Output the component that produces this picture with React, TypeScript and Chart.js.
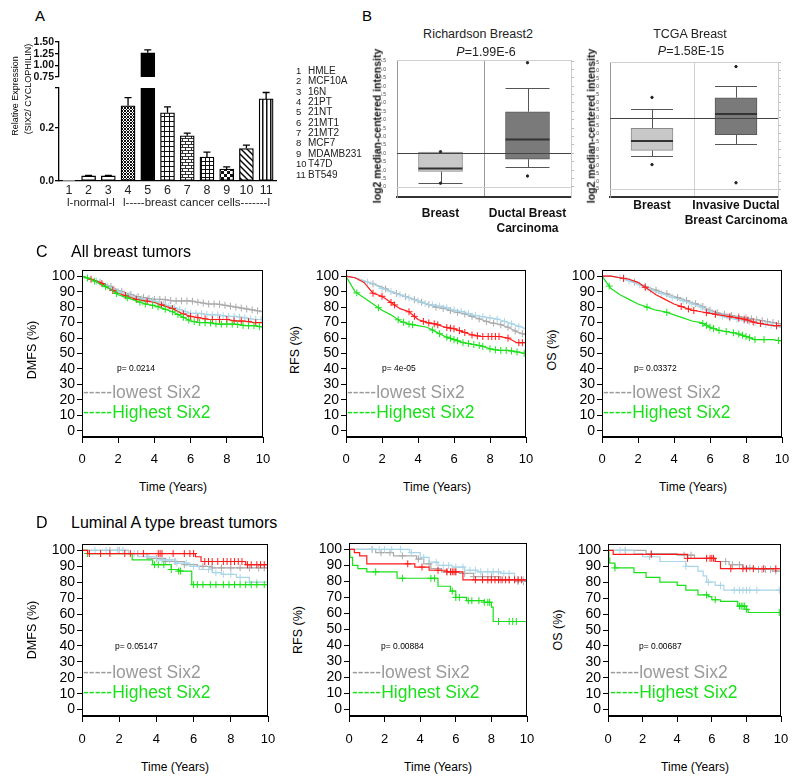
import React, { useEffect, useRef } from "react";
import { Chart, registerables } from "chart.js";
Chart.register(...registerables);

const FONT = "'Liberation Sans', Arial, Helvetica, sans-serif";
Chart.defaults.font.family = FONT;
Chart.defaults.color = "#000";

// ---------------- Panel A data ----------------
const cellNums = ["1", "2", "3", "4", "5", "6", "7", "8", "9", "10", "11"];
const cellNames = ["HMLE", "MCF10A", "16N", "21PT", "21NT", "21MT1", "21MT2", "MCF7", "MDAMB231", "T47D", "BT549"];
const relExpr = [0.002, 0.019, 0.019, 0.283, 1.27, 0.257, 0.17, 0.09, 0.045, 0.122, 0.309];
const relErr = [0, 0.002, 0.002, 0.031, 0.06, 0.022, 0.01, 0.019, 0.008, 0.013, 0.024];
const aLowTicks = [0, 0.2, 0.35];
const aLowLabels = ["0.0", "0.2", ""];
const aHighTicks = [0.75, 1.0, 1.25, 1.5];
const aHighLabels = ["0.75", "1.00", "1.25", "1.50"];
const barFills = ["white", "white", "white", "xhatch", "black", "grid5", "brick", "grid4", "checker", "diag", "vstripe"];

// ---------------- Panel B data ----------------
const bLeftGroups = [["Breast"], ["Ductal Breast", "Carcinoma"]];
const bLeftQ1 = [-1.08, -0.35];
const bLeftQ3 = [0.07, 2.48];
const bLeftMed = [-0.9, 0.83];
const bLeftWhLo = [-1.75, -0.8];
const bLeftWhHi = [0.07, 3.9];
const bLeftOutHi = [0.1, 5.4];
const bLeftOutLo = [-1.78, -1.35];
const bLeftTicks = [-2.0, -1.5, -1.0, -0.5, 0.0, 0.5, 1.0, 1.5, 2.0, 2.5, 3.0, 3.5, 4.0, 4.5, 5.0, 5.5];

const bRightGroups = [["Breast"], ["Invasive Ductal", "Breast Carcinoma"]];
const bRightQ1 = [-2.05, -1.05];
const bRightQ3 = [-0.65, 1.28];
const bRightMed = [-1.45, 0.25];
const bRightWhLo = [-2.42, -1.65];
const bRightWhHi = [0.55, 2.05];
const bRightOutHi = [1.3, 3.25];
const bRightOutLo = [-2.95, -4.1];
const bRightTicks = [-4.5, -4.0, -3.5, -3.0, -2.5, -2.0, -1.5, -1.0, -0.5, 0.0, 0.5, 1.0, 1.5, 2.0, 2.5, 3.0, 3.5];

// ---------------- KM data ----------------
const kmXTicks = [0, 2, 4, 6, 8, 10];
const kmYTicks = [0, 10, 20, 30, 40, 50, 60, 70, 80, 90, 100];
const cKnots = [0, 0.5, 1, 1.5, 2, 2.5, 3, 3.5, 4, 4.5, 5, 5.5, 6, 6.5, 7, 7.5, 8, 8.5, 9, 9.5, 10];

// C1 DMFS (all tumours)
const c1Gray = [100, 98, 96, 94, 91, 89, 87, 86, 85, 85, 84, 84, 84, 83, 82, 82, 81, 80, 79, 78, 77];
const c1Blue = [100, 98, 96, 93, 90, 88, 86, 85, 84, 82, 80, 78, 76, 76, 75, 75, 74, 74, 73, 72, 72];
const c1Red = [100, 98, 96, 92, 89, 87, 85, 84, 83, 81, 79, 76, 74, 73, 72, 72, 72, 71, 71, 70, 70];
const c1Green = [100, 98, 95, 92, 88, 86, 84, 82, 81, 79, 77, 74, 71, 70, 70, 69, 69, 69, 68, 68, 67];
const c1GrayCens = [1.0, 1.6, 2.2, 2.7, 3.1, 3.4, 3.7, 4.0, 4.3, 4.6, 4.9, 5.2, 5.5, 5.8, 6.1, 6.4, 6.7, 7.0, 7.3, 7.6, 7.9, 8.2, 8.5, 8.8, 9.1, 9.4, 9.7, 10.0];
const c1BlueCens = [0.8, 1.4, 2.0, 2.6, 3.0, 3.3, 3.6, 3.9, 4.2, 4.5, 4.8, 5.1, 5.4, 5.7, 6.0, 6.3, 6.6, 6.9, 7.2, 7.5, 7.8, 8.1, 8.4, 8.7, 9.0, 9.3, 9.6, 9.9];
const c1RedCens = [0.5, 1.1, 1.7, 2.4, 3.0, 3.6, 4.4, 5.0, 5.6, 6.0, 6.4, 6.8, 7.2, 7.6, 8.0, 8.4, 8.8, 9.2, 9.6, 10.0];
const c1GreenCens = [0.3, 0.7, 1.3, 1.9, 2.5, 3.2, 3.5, 3.9, 4.2, 4.6, 5.0, 5.3, 5.6, 5.9, 6.2, 6.5, 6.8, 7.1, 7.4, 7.7, 8.0, 8.3, 8.6, 8.9, 9.2, 9.5, 9.8];

// C2 RFS (all tumours)
const c2Gray = [100, 99, 97, 95, 93, 90, 88, 86, 84, 82, 80, 79, 77, 76, 74, 72, 70, 69, 67, 64, 62];
const c2Blue = [100, 99, 97, 95, 92, 90, 88, 86, 84, 82, 81, 80, 78, 77, 75, 74, 73, 72, 70, 68, 66];
const c2Red = [100, 99, 96, 89, 87, 83, 79, 77, 72, 70, 69, 67, 66, 64, 62, 61, 61, 61, 60, 57, 57];
const c2Green = [100, 90, 86, 82, 78, 75, 71, 69, 68, 67, 64, 61, 59, 57, 56, 55, 53, 52, 52, 51, 50];
const c2GrayCens = [1.5, 2.2, 2.8, 3.3, 3.8, 4.2, 4.6, 5.0, 5.4, 5.8, 6.2, 6.6, 7.0, 7.4, 7.8, 8.2, 8.6, 9.0, 9.4, 9.8];
const c2BlueCens = [1.2, 2.0, 2.5, 3.0, 3.5, 4.0, 4.4, 4.8, 5.2, 5.6, 6.0, 6.4, 6.8, 7.2, 7.6, 8.0, 8.4, 8.8, 9.2, 9.6, 10.0];
const c2RedCens = [1.5, 2.0, 2.5, 2.7, 3.5, 3.8, 4.3, 4.6, 4.9, 5.1, 5.6, 5.8, 6.0, 6.3, 6.6, 7.0, 7.3, 7.6, 7.9, 8.1, 8.3, 8.5, 9.0, 9.6, 9.8];
const c2GreenCens = [0.6, 1.8, 2.9, 3.2, 3.5, 3.7, 4.8, 5.2, 5.6, 5.8, 6.0, 6.2, 6.5, 6.8, 7.1, 7.4, 7.6, 8.0, 8.3, 8.6, 8.9, 9.2, 9.5, 9.9];

// C3 OS (all tumours)
const c3Gray = [100, 100, 99, 98, 95, 93, 91, 89, 87, 85, 83, 81, 78, 76, 75, 74, 73, 72, 71, 70, 69];
const c3Blue = [100, 100, 99, 97, 95, 92, 90, 88, 86, 84, 82, 80, 77, 75, 73, 72, 71, 70, 69, 68, 67];
const c3Red = [100, 100, 99, 98, 96, 92, 88, 85, 82, 80, 78, 77, 76, 75, 74, 73, 72, 70, 69, 68, 68];
const c3Green = [100, 92, 88, 85, 82, 80, 78, 77, 75, 73, 71, 70, 67, 65, 64, 63, 61, 59, 59, 59, 58];
const c3GrayCens = [1.2, 1.8, 2.4, 3.0, 3.6, 4.2, 4.7, 5.2, 5.6, 6.0, 6.4, 6.8, 7.2, 7.6, 8.0, 8.3, 8.6, 8.9, 9.2, 9.5, 9.8];
const c3BlueCens = [1.0, 1.5, 2.1, 2.7, 3.3, 3.9, 4.5, 5.0, 5.5, 5.9, 6.3, 6.7, 7.1, 7.5, 7.9, 8.2, 8.5, 8.8, 9.1, 9.4, 9.7, 10.0];
const c3RedCens = [1.2, 2.4, 4.4, 4.8, 5.1, 5.8, 6.3, 7.1, 7.6, 7.9, 8.1, 8.4, 8.8, 9.7];
const c3GreenCens = [0.4, 2.5, 3.6, 5.6, 5.8, 6.0, 6.2, 6.5, 6.9, 7.3, 7.6, 7.8, 8.0, 8.2, 8.5, 9.0, 9.8];

// D1 DMFS (luminal A)
const d1GrayT = [0, 2.5, 3.5, 4.5, 5.5, 6.2, 7.0, 10];
const d1GrayS = [100, 98, 95, 93, 91, 90, 89, 89];
const d1GrayCens = [1.5, 2.0, 3.0, 4.0, 4.5, 5.0, 5.5, 6.5, 7.0, 7.5, 8.0, 8.5, 9.0, 9.5, 9.8];
const d1BlueT = [0, 2.5, 3.0, 4.0, 5.0, 5.8, 6.3, 7.0, 7.5, 8.3, 9.0, 10];
const d1BlueS = [100, 98, 96, 94, 92, 90, 88, 86, 85, 83, 80, 79];
const d1BlueCens = [0.7, 1.3, 1.9, 2.2, 2.8, 3.6, 4.3, 4.7, 5.1, 5.6, 6.0, 6.8, 7.2, 7.6, 8.0, 8.5, 9.0, 9.4];
const d1RedT = [0, 0.3, 5.8, 6.1, 6.4, 8.8, 10];
const d1RedS = [100, 98, 98, 96, 93, 91, 91];
const d1RedCens = [0.4, 1.0, 1.5, 2.3, 2.6, 3.3, 4.1, 4.2, 4.3, 4.9, 5.5, 5.8, 6.0, 6.6, 6.8, 7.0, 7.3, 7.6, 7.8, 8.0, 8.2, 8.4, 8.6, 8.9, 9.1, 9.4, 9.6, 9.8, 10.0];
const d1GreenT = [0, 0.3, 2.7, 3.8, 4.8, 5.2, 5.9, 10];
const d1GreenS = [100, 98, 94, 91, 88, 87, 78.5, 78.5];
const d1GreenCens = [0.3, 3.9, 4.1, 4.4, 4.8, 5.2, 5.3, 6.0, 6.2, 6.5, 6.9, 7.2, 7.6, 7.9, 8.2, 8.5, 8.8, 9.1, 9.4, 9.8, 10.0];

// D2 RFS (luminal A)
const d2GrayT = [0, 1.5, 2.5, 3.8, 4.2, 4.6, 5.2, 6.2, 7.0, 8.5, 9.5, 10];
const d2GrayS = [100, 98, 96, 94, 91, 88, 86, 85, 83, 81, 80, 79];
const d2GrayCens = [1.3, 1.8, 2.3, 3.0, 3.9, 4.5, 5.5, 6.0, 6.5, 7.0, 7.5, 8.0, 8.5, 9.0, 9.5, 9.8];
const d2BlueT = [0, 3.4, 4.0, 4.5, 5.0, 5.8, 6.5, 7.2, 8.5, 9.3, 10];
const d2BlueS = [100, 98, 95, 92, 90, 89, 87, 86, 85, 81, 78];
const d2BlueCens = [1.3, 1.7, 2.0, 2.4, 2.9, 3.5, 4.2, 4.9, 5.3, 5.6, 6.0, 6.4, 6.8, 7.1, 7.4, 7.8, 8.1, 8.4, 8.7, 9.0, 9.5, 9.8];
const d2RedT = [0, 0.3, 0.6, 1.0, 3.7, 4.5, 5.5, 6.4, 10];
const d2RedS = [100, 98, 96, 91, 89, 87, 86, 81, 81];
const d2RedCens = [3.3, 4.1, 5.0, 5.5, 5.7, 5.8, 5.9, 6.0, 7.1, 7.5, 7.8, 8.0, 8.2, 8.4, 8.6, 8.8, 9.0, 9.3, 9.5, 9.7, 10.0];
const d2GreenT = [0, 0.05, 0.2, 0.5, 1.0, 2.7, 5.0, 5.7, 6.0, 6.6, 7.6, 8.0, 8.1, 10];
const d2GreenS = [100, 95, 90, 88, 86, 82, 77, 74, 70, 68, 67, 64, 55, 55];
const d2GreenCens = [1.5, 3.0, 4.6, 4.8, 5.8, 6.0, 6.2, 6.7, 6.9, 7.3, 7.6, 7.8, 7.9, 8.4, 9.0, 9.2, 9.4];

// D3 OS (luminal A)
const d3GrayT = [0, 2.2, 4.0, 5.0, 6.2, 7.0, 7.8, 8.5, 9.5, 10];
const d3GrayS = [100, 98, 97, 95, 93, 91, 89, 88, 87, 87];
const d3GrayCens = [1.0, 2.5, 4.4, 4.8, 6.8, 7.2, 7.6, 8.2, 8.7, 8.9, 9.1, 9.4, 9.7];
const d3BlueT = [0, 1.5, 2.0, 3.0, 4.5, 5.2, 5.5, 5.7, 6.2, 6.7, 10];
const d3BlueS = [100, 98, 96, 93, 90, 87, 84, 80, 78, 75, 75];
const d3BlueCens = [0.7, 1.0, 2.4, 4.5, 5.8, 6.5, 7.3, 7.6, 7.8, 8.0, 8.2, 8.6, 9.9];
const d3RedT = [0, 0.3, 4.6, 6.2, 6.5, 10];
const d3RedS = [100, 97.5, 95, 93, 88.5, 88.5];
const d3RedCens = [2.5, 4.6, 5.7, 5.9, 6.0, 6.1, 7.1, 7.8, 8.0, 8.4, 9.0, 9.7];
const d3GreenT = [0, 0.05, 0.1, 0.4, 1.5, 2.2, 3.0, 4.0, 4.5, 5.2, 5.8, 6.0, 6.5, 7.5, 8.0, 8.1, 10];
const d3GreenS = [100, 95, 92, 89, 86, 83, 80, 78, 75, 72, 71, 69, 68, 65, 63, 61, 61];
const d3GreenCens = [0.4, 5.7, 6.2, 7.6, 7.7, 7.8, 7.9, 8.0, 9.9, 10.0];

const kmYTitles = ["DMFS (%)", "RFS (%)", "OS (%)", "DMFS (%)", "RFS (%)", "OS (%)"];
const kmPvals = ["p= 0.0214", "p= 4e-05", "p= 0.03372", "p= 0.05147", "p= 0.00884", "p= 0.00687"];
const legendLow = "-----lowest Six2";
const legendHigh = "-----Highest Six2";

// ---------------- styles ----------------
const GRAY = "#aaaaaa";
const BLUE = "#a9d5e8";
const RED = "#ff1a1a";
const GREEN = "#19e019";

type Lay = { x0: number; y0: number; x1: number; y1: number; ml: number; mr: number; mt: number; mb: number; pb?: number; pr?: number };

const fitW = (w: number) => (s: any) => { s.width = w; s.paddingLeft = 0; s.paddingRight = 0; s.paddingTop = 0; s.paddingBottom = 0; };
const fitH = (h: number) => (s: any) => { s.height = h; s.paddingLeft = 0; s.paddingRight = 0; s.paddingTop = 0; s.paddingBottom = 0; };
const setTicks = (vals: number[]) => (s: any) => { s.ticks = vals.map((v) => ({ value: v })); };

function valueAt(t: number[], s: number[], x: number, stepped: boolean) {
  if (stepped) {
    let v = s[0];
    for (let i = 0; i < t.length; i++) if (t[i] <= x) v = s[i];
    return v;
  }
  for (let i = 1; i < t.length; i++) {
    if (x <= t[i]) {
      const f = (x - t[i - 1]) / (t[i] - t[i - 1]);
      return s[i - 1] + f * (s[i] - s[i - 1]);
    }
  }
  return s[s.length - 1];
}

function ChartBox({ lay, build }: { lay: Lay; build: (lay: Lay) => any }) {
  const ref = useRef<HTMLCanvasElement>(null);
  const w = lay.x1 - lay.x0 + lay.ml + lay.mr;
  const h = lay.y1 - lay.y0 + lay.mt + lay.mb;
  useEffect(() => {
    const cfg = build(lay);
    cfg.options = {
      ...(cfg.options || {}),
      responsive: false,
      maintainAspectRatio: false,
      animation: false,
      devicePixelRatio: 1,
      events: [],
      layout: { padding: { left: 0, top: lay.mt, right: lay.mr - (lay.pr || 0), bottom: lay.pb || 0 } },
      plugins: { legend: { display: false }, tooltip: { enabled: false }, title: { display: false } },
    };
    const chart = new Chart(ref.current as HTMLCanvasElement, cfg);
    return () => chart.destroy();
  }, []);
  return (
    <canvas
      ref={ref}
      width={w}
      height={h}
      style={{ position: "absolute", left: lay.x0 - lay.ml, top: lay.y0 - lay.mt, width: w, height: h }}
    />
  );
}

// ---------------- patterns for panel A ----------------
function makeFill(kind: string): any {
  if (kind === "white") return "#ffffff";
  if (kind === "black") return "#000000";
  const c = document.createElement("canvas");
  const size = kind === "xhatch" ? 3 : kind === "grid5" ? 5 : kind === "grid4" ? 4 : kind === "vstripe" ? 4 : 6;
  c.width = size;
  c.height = size;
  const g = c.getContext("2d") as CanvasRenderingContext2D;
  g.fillStyle = "#fff";
  g.fillRect(0, 0, size, size);
  g.fillStyle = "#111";
  if (kind === "xhatch") {
    [[0, 0], [1, 1], [2, 2], [2, 0], [0, 2]].forEach(([x, y]) => g.fillRect(x, y, 1, 1));
  } else if (kind === "grid5" || kind === "grid4") {
    g.fillRect(0, 0, size, 1);
    g.fillRect(0, 0, 1, size);
  } else if (kind === "brick") {
    g.fillStyle = "#333";
    g.fillRect(0, 0, 6, 1);
    g.fillRect(0, 3, 6, 1);
    g.fillRect(0, 1, 1, 2);
    g.fillRect(3, 4, 1, 2);
  } else if (kind === "checker") {
    g.fillRect(0, 0, 3, 3);
    g.fillRect(3, 3, 3, 3);
  } else if (kind === "diag") {
    g.strokeStyle = "#000";
    g.lineWidth = 1.4;
    g.beginPath();
    g.moveTo(-1, -1); g.lineTo(7, 7);
    g.moveTo(-1, 5); g.lineTo(1, 7);
    g.moveTo(5, -1); g.lineTo(7, 1);
    g.stroke();
  } else if (kind === "vstripe") {
    g.fillRect(1, 0, 1.5, size);
  }
  const ctx = document.createElement("canvas").getContext("2d") as CanvasRenderingContext2D;
  return ctx.createPattern(c, "repeat");
}

const errPlugin = (vals: (number | null)[], errs: number[]) => ({
  id: "errbars",
  afterDatasetsDraw(chart: any) {
    const meta = chart.getDatasetMeta(0);
    const y = chart.scales.y;
    const ctx = chart.ctx;
    ctx.save();
    ctx.strokeStyle = "#000";
    ctx.lineWidth = 1.3;
    meta.data.forEach((bar: any, i: number) => {
      const v = vals[i];
      if (v == null || !errs[i]) return;
      const top = v + errs[i];
      if (top > y.max) return;
      const y0 = y.getPixelForValue(v);
      const y1 = y.getPixelForValue(top);
      ctx.beginPath();
      ctx.moveTo(bar.x, y0);
      ctx.lineTo(bar.x, y1);
      ctx.moveTo(bar.x - 3.5, y1);
      ctx.lineTo(bar.x + 3.5, y1);
      ctx.stroke();
    });
    ctx.restore();
  },
});

function aBuild(high: boolean) {
  return (lay: Lay) => {
    const vals = high ? relExpr.map((v) => (v > 0.75 ? v : null)) : relExpr;
    const labels = high ? aHighLabels : aLowLabels;
    return {
      type: "bar",
      data: {
        labels: cellNums,
        datasets: [
          {
            data: vals,
            backgroundColor: barFills.map(makeFill),
            borderColor: "#000",
            borderWidth: 1.3,
            borderSkipped: false,
            barThickness: 14,
          },
        ],
      },
      options: {
        scales: {
          x: high
            ? { display: false }
            : {
                type: "category",
                afterFit: fitH(lay.mb - (lay.pb || 0)),
                grid: { display: false, drawTicks: false, tickLength: 0 },
                border: { display: true, color: "#000", width: 1.3 },
                ticks: { font: { size: 12.5 }, color: "#222", padding: 2, maxRotation: 0, autoSkip: false },
              },
          y: {
            type: "linear",
            min: high ? 0.75 : 0,
            max: high ? 1.5 : 0.35,
            afterBuildTicks: setTicks(high ? aHighTicks : aLowTicks),
            afterFit: fitW(lay.ml),
            grid: { drawOnChartArea: false, tickLength: 4, color: "#000", lineWidth: 1.3 },
            border: { color: "#000", width: 1.3 },
            ticks: {
              font: { size: 10.5, weight: "bold" },
              color: "#111",
              padding: 1,
              autoSkip: false,
              callback: (_v: any, i: number) => labels[i],
            },
          },
        },
      },
      plugins: [errPlugin(vals, relErr)],
    };
  };
}

// ---------------- box plots ----------------
type BoxSet = {
  groups: string[][]; q1: number[]; q3: number[]; med: number[]; wlo: number[]; whi: number[];
  outHi: number[]; outLo: number[]; ticks: number[]; min: number; max: number; light: number;
  divider: string; labelPad: number; thick: number;
};

function boxBuild(d: BoxSet) {
  return (lay: Lay) => ({
    type: "bar",
    data: {
      labels: d.groups,
      datasets: [
        {
          data: d.q1.map((q, i) => [q, d.q3[i]]),
          backgroundColor: ["#c8c8c8", "#7a7a7a"],
          borderColor: ["#8a8a8a", "#5a5a5a"],
          borderWidth: 1,
          borderSkipped: false,
          barThickness: d.thick,
          order: 2,
        },
        { type: "line", data: d.outHi, showLine: false, pointRadius: 1.2, pointBackgroundColor: "#222", pointBorderColor: "#222", order: 0 },
        { type: "line", data: d.outLo, showLine: false, pointRadius: 1.2, pointBackgroundColor: "#222", pointBorderColor: "#222", order: 0 },
      ],
    },
    options: {
      scales: {
        x: {
          type: "category",
          afterFit: fitH(lay.mb),
          grid: { offset: true, color: d.divider, drawTicks: false },
          border: { color: "#333", width: 2 },
          ticks: { font: { size: 12, weight: "bold", lineHeight: 1.25 }, color: "#111", padding: d.labelPad, maxRotation: 0, autoSkip: false },
        },
        y: {
          min: d.min,
          max: d.max,
          afterBuildTicks: setTicks(d.ticks),
          afterFit: fitW(lay.ml),
          grid: { display: false },
          border: { color: "#999", width: 1 },
          ticks: { font: { size: 5 }, color: "#444", padding: 3, autoSkip: false, callback: (v: any) => Number(v).toFixed(1) },
        },
        y2: {
          position: "right",
          min: d.min,
          max: d.max,
          afterBuildTicks: setTicks(d.ticks),
          afterFit: fitW(4),
          grid: { drawOnChartArea: false, drawTicks: true, tickLength: 3, color: "#bbb" },
          border: { color: "#ccc", width: 1 },
          ticks: { display: false },
        },
      },
    },
    plugins: [
      {
        id: "boxparts",
        beforeDatasetsDraw(chart: any) {
          const meta = chart.getDatasetMeta(0);
          const y = chart.scales.y;
          const ctx = chart.ctx;
          ctx.save();
          ctx.strokeStyle = "#555";
          ctx.lineWidth = 1;
          meta.data.forEach((bar: any, i: number) => {
            const hw = bar.width / 2;
            const segs = [
              [d.q3[i], d.whi[i]],
              [d.q1[i], d.wlo[i]],
            ];
            segs.forEach(([a, b]) => {
              if (a === b) return;
              const ya = y.getPixelForValue(a);
              const yb = Math.round(y.getPixelForValue(b)) + 0.5;
              ctx.beginPath();
              ctx.moveTo(Math.round(bar.x) + 0.5, ya);
              ctx.lineTo(Math.round(bar.x) + 0.5, yb);
              ctx.moveTo(bar.x - hw, yb);
              ctx.lineTo(bar.x + hw, yb);
              ctx.stroke();
            });
          });
          ctx.restore();
        },
        afterDatasetsDraw(chart: any) {
          const meta = chart.getDatasetMeta(0);
          const y = chart.scales.y;
          const a = chart.chartArea;
          const ctx = chart.ctx;
          ctx.save();
          ctx.strokeStyle = "#333";
          ctx.lineWidth = 2;
          meta.data.forEach((bar: any, i: number) => {
            const ym = y.getPixelForValue(d.med[i]);
            ctx.beginPath();
            ctx.moveTo(bar.x - bar.width / 2, ym);
            ctx.lineTo(bar.x + bar.width / 2, ym);
            ctx.stroke();
          });
          ctx.lineWidth = 1;
          ctx.strokeStyle = "#444";
          const y0 = Math.round(y.getPixelForValue(0)) + 0.5;
          ctx.beginPath();
          ctx.moveTo(a.left, y0);
          ctx.lineTo(a.right, y0);
          ctx.stroke();
          ctx.strokeStyle = "#d0d0d0";
          const yl = Math.round(y.getPixelForValue(d.light)) + 0.5;
          ctx.beginPath();
          ctx.moveTo(a.left, yl);
          ctx.lineTo(a.right, yl);
          ctx.moveTo(a.left, Math.round(a.top) + 0.5);
          ctx.lineTo(a.right, Math.round(a.top) + 0.5);
          ctx.stroke();
          ctx.restore();
        },
      },
    ],
  });
}

// ---------------- KM ----------------
type KMCurve = { t: number[]; s: number[]; cens: number[]; color: string; order: number };

const framePlugin = {
  id: "frame",
  afterDatasetsDraw(chart: any) {
    const { ctx, chartArea: a } = chart;
    ctx.save();
    ctx.strokeStyle = "#000";
    ctx.lineWidth = 1;
    ctx.strokeRect(Math.round(a.left) + 0.5, Math.round(a.top) + 0.5, Math.round(a.right - a.left) - 1, Math.round(a.bottom - a.top) - 1);
    ctx.restore();
  },
};

function kmBuild(curves: KMCurve[], stepped: boolean, xPad: number) {
  return (lay: Lay) => ({
    type: "line",
    data: {
      datasets: curves.flatMap((cv) => [
        {
          data: cv.t.map((x, i) => ({ x, y: cv.s[i] })),
          stepped: stepped ? "before" : false,
          borderColor: cv.color,
          borderWidth: 1.2,
          pointRadius: 0,
          fill: false,
          order: cv.order,
        },
        {
          data: cv.cens.map((x) => ({ x, y: valueAt(cv.t, cv.s, x, stepped) })),
          showLine: false,
          pointStyle: "cross",
          pointRadius: 3.5,
          pointBorderWidth: 1,
          borderColor: cv.color,
          pointBorderColor: cv.color,
          backgroundColor: cv.color,
          order: cv.order,
        },
      ]),
    },
    options: {
      scales: {
        x: {
          type: "linear",
          min: 0,
          max: 10,
          afterBuildTicks: setTicks(kmXTicks),
          afterFit: fitH(lay.mb),
          grid: { drawOnChartArea: false, tickLength: 6, color: "#000" },
          border: { color: "#000" },
          ticks: { font: { size: 13 }, color: "#000", padding: xPad, maxRotation: 0, autoSkip: false },
        },
        y: {
          type: "linear",
          min: -4,
          max: 104,
          afterBuildTicks: setTicks(kmYTicks),
          afterFit: fitW(lay.ml),
          grid: { drawOnChartArea: false, tickLength: 5, color: "#000" },
          border: { color: "#000" },
          ticks: { font: { size: 14 }, color: "#000", padding: 2, autoSkip: false },
        },
      },
    },
    plugins: [framePlugin],
  });
}

function curvesC(g: number[], b: number[], r: number[], gr: number[], gc: number[], bc: number[], rc: number[], grc: number[]): KMCurve[] {
  return [
    { t: cKnots, s: g, cens: gc, color: GRAY, order: 3 },
    { t: cKnots, s: b, cens: bc, color: BLUE, order: 2 },
    { t: cKnots, s: r, cens: rc, color: RED, order: 1 },
    { t: cKnots, s: gr, cens: grc, color: GREEN, order: 0 },
  ];
}

const kmC1 = curvesC(c1Gray, c1Blue, c1Red, c1Green, c1GrayCens, c1BlueCens, c1RedCens, c1GreenCens);
const kmC2 = curvesC(c2Gray, c2Blue, c2Red, c2Green, c2GrayCens, c2BlueCens, c2RedCens, c2GreenCens);
const kmC3 = curvesC(c3Gray, c3Blue, c3Red, c3Green, c3GrayCens, c3BlueCens, c3RedCens, c3GreenCens);
const kmD1: KMCurve[] = [
  { t: d1GrayT, s: d1GrayS, cens: d1GrayCens, color: GRAY, order: 3 },
  { t: d1BlueT, s: d1BlueS, cens: d1BlueCens, color: BLUE, order: 2 },
  { t: d1GreenT, s: d1GreenS, cens: d1GreenCens, color: GREEN, order: 1 },
  { t: d1RedT, s: d1RedS, cens: d1RedCens, color: RED, order: 0 },
];
const kmD2: KMCurve[] = [
  { t: d2GrayT, s: d2GrayS, cens: d2GrayCens, color: GRAY, order: 3 },
  { t: d2BlueT, s: d2BlueS, cens: d2BlueCens, color: BLUE, order: 2 },
  { t: d2GreenT, s: d2GreenS, cens: d2GreenCens, color: GREEN, order: 1 },
  { t: d2RedT, s: d2RedS, cens: d2RedCens, color: RED, order: 0 },
];
const kmD3: KMCurve[] = [
  { t: d3GrayT, s: d3GrayS, cens: d3GrayCens, color: GRAY, order: 3 },
  { t: d3BlueT, s: d3BlueS, cens: d3BlueCens, color: BLUE, order: 2 },
  { t: d3GreenT, s: d3GreenS, cens: d3GreenCens, color: GREEN, order: 1 },
  { t: d3RedT, s: d3RedS, cens: d3RedCens, color: RED, order: 0 },
];

// ---------------- text helper ----------------
function T(props: { x: number; y: number; s: number; a?: "l" | "c" | "r"; r?: boolean; b?: boolean; c?: string; children: any }) {
  const { x, y, s, a = "l", r = false, b = false, c = "#000", children } = props;
  const tx = a === "l" ? "0" : a === "c" ? "-50%" : "-100%";
  return (
    <div
      style={{
        position: "absolute",
        left: x,
        top: y,
        fontFamily: FONT,
        fontSize: s,
        lineHeight: 1,
        fontWeight: b ? "bold" : "normal",
        color: c,
        whiteSpace: "nowrap",
        transform: r ? "translate(-50%,-50%) rotate(-90deg)" : `translate(${tx},-50%)`,
      }}
    >
      {children}
    </div>
  );
}

const kmLays: Lay[] = [
  { x0: 82, y0: 270, x1: 263, y1: 437, ml: 40, mr: 12, mt: 8, mb: 30 },
  { x0: 346, y0: 270, x1: 526, y1: 437, ml: 40, mr: 12, mt: 8, mb: 30 },
  { x0: 602, y0: 270, x1: 782, y1: 437, ml: 40, mr: 14, mt: 8, mb: 30 },
  { x0: 82, y0: 544, x1: 268, y1: 716, ml: 40, mr: 12, mt: 8, mb: 30 },
  { x0: 349, y0: 543, x1: 527, y1: 716, ml: 40, mr: 12, mt: 8, mb: 30 },
  { x0: 608, y0: 544, x1: 781, y1: 716, ml: 40, mr: 14, mt: 8, mb: 30 },
];
const kmCurveSets = [kmC1, kmC2, kmC3, kmD1, kmD2, kmD3];
const kmYTitlePos = [[32, 350], [295, 350], [552, 350], [32, 630], [298, 630], [558, 630]];
const kmTimePos = [[173, 487], [437, 487], [693, 487], [175, 767], [438, 767], [695, 767]];
const kmPPos = [[117, 368], [382, 368], [634, 368], [115, 646], [381, 646], [639, 646]];
const kmLegX = [83, 347, 603, 83, 352, 610];
const kmLegY = [[393, 413], [393, 413], [393, 413], [673, 693], [673, 693], [673, 693]];

export default function App() {
  const bLeft: BoxSet = {
    groups: bLeftGroups, q1: bLeftQ1, q3: bLeftQ3, med: bLeftMed, wlo: bLeftWhLo, whi: bLeftWhHi,
    outHi: bLeftOutHi, outLo: bLeftOutLo, ticks: bLeftTicks, min: -2.6, max: 5.56, light: -2.0,
    divider: "#999", labelPad: 9, thick: 44,
  };
  const bRight: BoxSet = {
    groups: bRightGroups, q1: bRightQ1, q3: bRightQ3, med: bRightMed, wlo: bRightWhLo, whi: bRightWhHi,
    outHi: bRightOutHi, outLo: bRightOutLo, ticks: bRightTicks, min: -5.0, max: 3.54, light: -4.5,
    divider: "#d0d0d0", labelPad: 1, thick: 42,
  };
  return (
    <div style={{ position: "absolute", left: 0, top: 0, width: 800, height: 783, background: "#fff", overflow: "hidden" }}>
      {/* Panel A */}
      <ChartBox lay={{ x0: 59, y0: 42, x1: 276, y1: 77, ml: 30, mr: 4, mt: 7, mb: 7, pb: 7 }} build={aBuild(true)} />
      <ChartBox lay={{ x0: 59, y0: 88, x1: 276, y1: 181, ml: 30, mr: 4, mt: 7, mb: 18 }} build={aBuild(false)} />
      {/* Panel B */}
      <ChartBox lay={{ x0: 397, y0: 58, x1: 571, y1: 197, ml: 16, mr: 6, pr: 4, mt: 3, mb: 42 }} build={boxBuild(bLeft)} />
      <ChartBox lay={{ x0: 610, y0: 60, x1: 778, y1: 197, ml: 16, mr: 18, pr: 4, mt: 3, mb: 36 }} build={boxBuild(bRight)} />
      {/* KM panels */}
      {kmLays.map((lay, i) => (
        <ChartBox key={i} lay={lay} build={kmBuild(kmCurveSets[i], i >= 3, i >= 3 ? 10 : 9)} />
      ))}

      {/* Texts panel A */}
      <T x={35} y={15} s={15}>A</T>
      <T x={15} y={97} s={9}>{""}</T>
      <T x={15} y={96} s={9} r>Relative Expression</T>
      <T x={28} y={89} s={9} r>(SIX2/ CYCLOPHILIN)</T>
      {cellNames.map((n, i) => (
        <React.Fragment key={n}>
          <T x={296} y={71 + 10.35 * i} s={9.5} c="#222">{cellNums[i]}</T>
          <T x={308} y={71 + 10.35 * i} s={10} c="#222">{n}</T>
        </React.Fragment>
      ))}
      <T x={67} y={203} s={11.5} c="#222">l-normal-l</T>
      <T x={123} y={203} s={11.5} c="#222">l-----breast cancer cells-------l</T>

      {/* Texts panel B */}
      <T x={362} y={15} s={15}>B</T>
      <T x={478} y={34} s={12.5} a="c" c="#222">Richardson Breast2</T>
      <T x={486} y={52} s={12.5} a="c" c="#222"><i>P</i>=1.99E-6</T>
      <T x={690} y={34} s={12.5} a="c" c="#222">TCGA Breast</T>
      <T x={691} y={51} s={12.5} a="c" c="#222"><i>P</i>=1.58E-15</T>
      <T x={377} y={126} s={10.5} r b c="#111">log2 median-centered intensity</T>
      <T x={591} y={126} s={10.5} r b c="#111">log2 median-centered intensity</T>

      {/* Headers C, D */}
      <T x={36} y={252} s={16}>C</T>
      <T x={71} y={252} s={16}>All breast tumors</T>
      <T x={36} y={523} s={16}>D</T>
      <T x={71} y={523} s={16}>Luminal A type breast tumors</T>

      {/* KM texts */}
      {kmLays.map((_, i) => (
        <React.Fragment key={"t" + i}>
          <T x={kmYTitlePos[i][0]} y={kmYTitlePos[i][1]} s={12.5} r>{kmYTitles[i]}</T>
          <T x={kmTimePos[i][0]} y={kmTimePos[i][1]} s={12} a="c">Time (Years)</T>
          <T x={kmPPos[i][0]} y={kmPPos[i][1]} s={8.5}>{kmPvals[i]}</T>
          <T x={kmLegX[i]} y={kmLegY[i][0]} s={17.5} c="#9a9a9a">{legendLow}</T>
          <T x={kmLegX[i]} y={kmLegY[i][1]} s={17.5} c={GREEN}>{legendHigh}</T>
        </React.Fragment>
      ))}
    </div>
  );
}
